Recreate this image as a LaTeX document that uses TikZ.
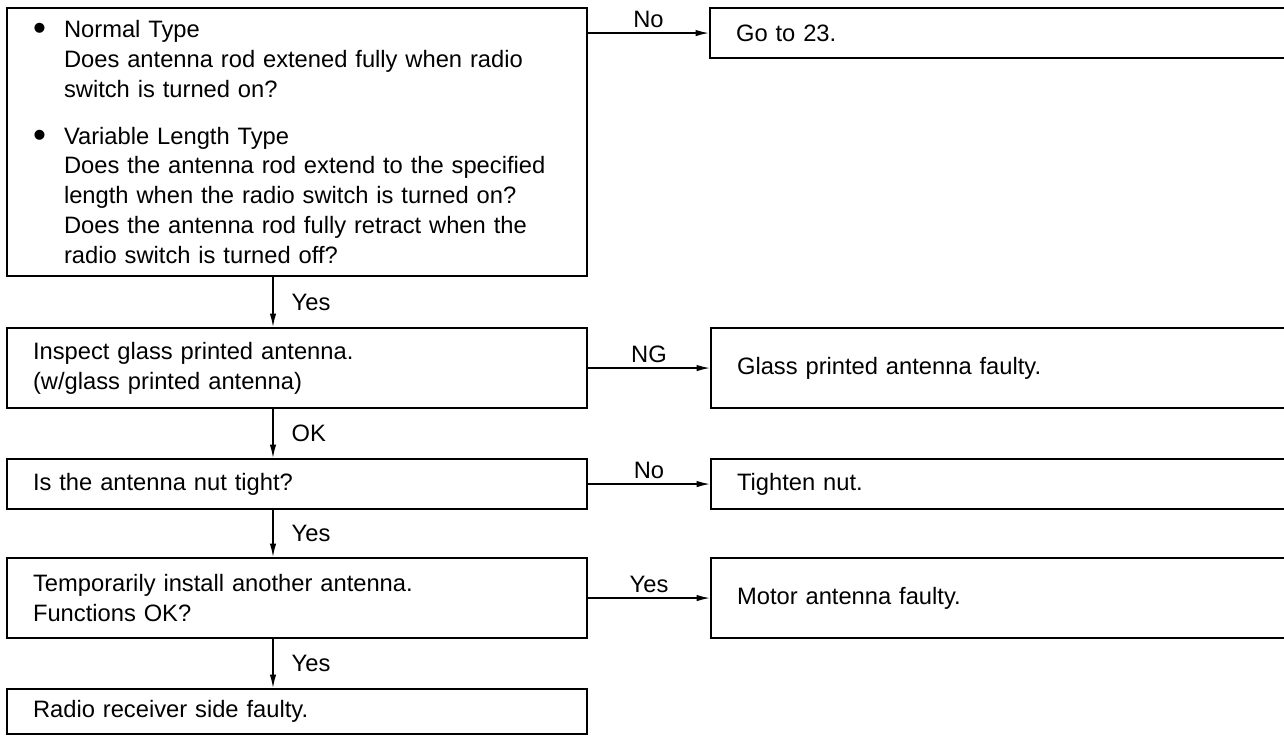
\documentclass[tikz,border=0pt]{standalone}
\usepackage{fontspec}
\setmainfont{Liberation Sans}
\usetikzlibrary{
  arrows.meta, % Latex 箭头
  calc         % 坐标计算
}
\tikzset{
  box/.style={
    draw,
    rectangle,
    line width=1.2pt,
    anchor=north west,
    inner xsep=0.52cm,
    inner ysep=0pt,
    text width=10.56cm,
    align=left,
    font=\fontsize{13.5}{17}\selectfont
  },
  flow/.style={
    -{Latex[length=0.27cm, width=0.13cm]},
    line width=0.85pt
  },
  flow label/.style={
    inner sep=0pt,
    text depth=0pt,
    font=\fontsize{13.5}{17}\selectfont
  }
}
\newcommand{\bul}{\makebox[0.62cm][l]{\raisebox{-0.25ex}{\fontsize{21}{17}\selectfont\textbullet}}}
\newcommand{\ind}{\hspace*{0.62cm}}

\begin{document}
\begin{tikzpicture}[x=0.02cm, y=-0.02cm]
  % 画布范围
  \useasboundingbox (0,0) rectangle (1284,735);
  \clip (0,0) rectangle (1284,735);

  % ==== 1. 左列判断框 ====
  \node[box, minimum height=5.36cm] (check) at (6,7) {%
    \bul Normal Type\\
    \ind Does antenna rod extened fully when radio\\
    \ind switch is turned on?\\[0.34cm]
    \bul Variable Length Type\\
    \ind Does the antenna rod extend to the specified\\
    \ind length when the radio switch is turned on?\\
    \ind Does the antenna rod fully retract when the\\
    \ind radio switch is turned off?};
  \node[box, minimum height=1.6cm] (inspect) at (6,327)
    {Inspect glass printed antenna.\\(w/glass printed antenna)};
  \node[box, minimum height=1.0cm] (nut) at (6,458) {Is the antenna nut tight?};
  \node[box, minimum height=1.6cm] (temp) at (6,557)
    {Temporarily install another antenna.\\Functions OK?};
  \node[box, minimum height=0.9cm] (radio) at (6,688) {Radio receiver side faulty.};

  % ==== 2. 右列结果框 (右边超出画面) ====
  \node[box, minimum height=1.0cm] (goto) at (709,7) {Go to 23.};
  \node[box, minimum height=1.6cm] (glass) at (710,327) {Glass printed antenna faulty.};
  \node[box, minimum height=1.0cm] (tighten) at (710,458) {Tighten nut.};
  \node[box, minimum height=1.6cm] (motor) at (710,557) {Motor antenna faulty.};

  % ==== 3. 竖向流程线 ====
  \coordinate (spine) at (273,0);
  \draw[flow] (check.south -| spine) -- node[flow label, right=0.36cm] {Yes} (inspect.north -| spine);
  \draw[flow] (inspect.south -| spine) -- node[flow label, right=0.36cm] {OK} (nut.north -| spine);
  \draw[flow] (nut.south -| spine) -- node[flow label, right=0.36cm] {Yes} (temp.north -| spine);
  \draw[flow] (temp.south -| spine) -- node[flow label, right=0.36cm] {Yes} (radio.north -| spine);

  % ==== 4. 横向分支 ====
  \draw[flow] (goto.west -| check.east) -- node[flow label, above=0.1cm] {No} (goto.west);
  \draw[flow] (inspect.east) -- node[flow label, above=0.1cm] {NG} (glass.west);
  \draw[flow] (nut.east) -- node[flow label, above=0.1cm] {No} (tighten.west);
  \draw[flow] (temp.east) -- node[flow label, above=0.1cm] {Yes} (motor.west);
\end{tikzpicture}
\end{document}
